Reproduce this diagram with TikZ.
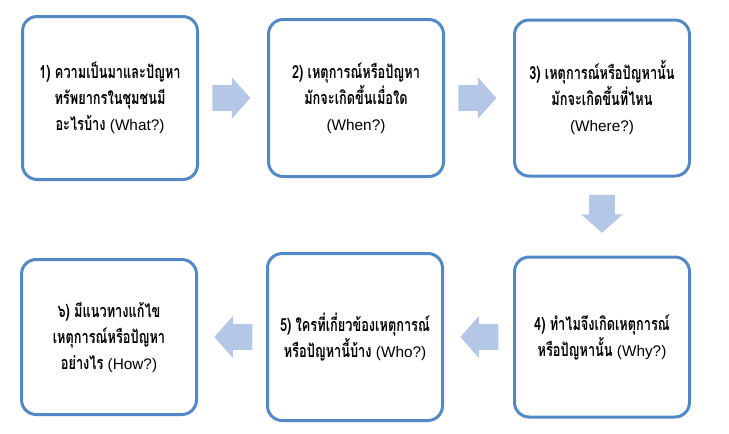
\documentclass[tikz,border=0pt]{standalone}
\usepackage{fontspec}
\usetikzlibrary{positioning,shapes.arrows}
\newfontfamily\thaifont[Script=Thai, FakeStretch=0.71]{Loma}
\newfontfamily\latinfont{Liberation Sans}
\newcommand{\en}[1]{{\latinfont\mdseries\fontsize{11.5}{19.5}\selectfont #1}}
\definecolor{boxblue}{HTML}{5288C5}
\definecolor{arrowblue}{HTML}{B4C7E7}

\begin{document}
\begin{tikzpicture}[x=0.75pt, y=-0.75pt,
    qbox/.style={draw=boxblue, line width=2.25pt, rounded corners=11pt,
      minimum width=131.25pt, align=center, text=black,
      font=\thaifont\bfseries\fontsize{13.5}{19.5}\selectfont},
    blockarrow/.style={single arrow, fill=arrowblue, draw=none,
      inner xsep=0pt, inner ysep=9.4pt, minimum height=28.5pt,
      single arrow head extend=6pt, single arrow tip angle=97}]
  \useasboundingbox (0,0) rectangle (729,433);
  % Define nodes
  \node[qbox, minimum height=122.25pt] (q1) at (110,98)
    {1) ความเป็นมาและปัญหา\\ทรัพยากรในชุมชนมี\\อะไรบ้าง \en{(What?)}};
  \node[qbox, minimum height=117.75pt, right=51pt of q1] (q2)
    {2) เหตุการณ์หรือปัญหา\\มักจะเกิดขึ้นเมื่อใด\\\en{(When?)}};
  \node[qbox, minimum height=117pt, right=51pt of q2] (q3)
    {3) เหตุการณ์หรือปัญหานั้น\\มักจะเกิดขึ้นที่ไหน\\\en{(Where?)}};
  \node[qbox, minimum height=120pt, below=58.5pt of q3] (q4)
    {4) ทำไมจึงเกิดเหตุการณ์\\หรือปัญหานั้น \en{(Why?)}};
  \node[qbox, minimum height=125.25pt, left=51.75pt of q4] (q5)
    {5) ใครที่เกี่ยวข้องเหตุการณ์\\หรือปัญหานี้บ้าง \en{(Who?)}};
  \node[qbox, minimum height=116.25pt, left=51pt of q5] (q6)
    {๖) มีแนวทางแก้ไข\\เหตุการณ์หรือปัญหา\\อย่างไร \en{(How?)}};
  % Block arrows between the steps
  \node[blockarrow, anchor=tail] (arr12) at ([xshift=9.75pt]q1.east) {};
  \node[blockarrow, anchor=tail] (arr23) at ([xshift=9.75pt]q2.east) {};
  \node[blockarrow, rotate=-90, anchor=tail] (arr34) at ([yshift=-12.75pt]q3.south) {};
  \node[blockarrow, shape border rotate=180, anchor=tip] (arr45) at ([xshift=12pt]q5.east) {};
  \node[blockarrow, shape border rotate=180, anchor=tip] (arr56) at ([xshift=12pt]q6.east) {};
\end{tikzpicture}
\end{document}
